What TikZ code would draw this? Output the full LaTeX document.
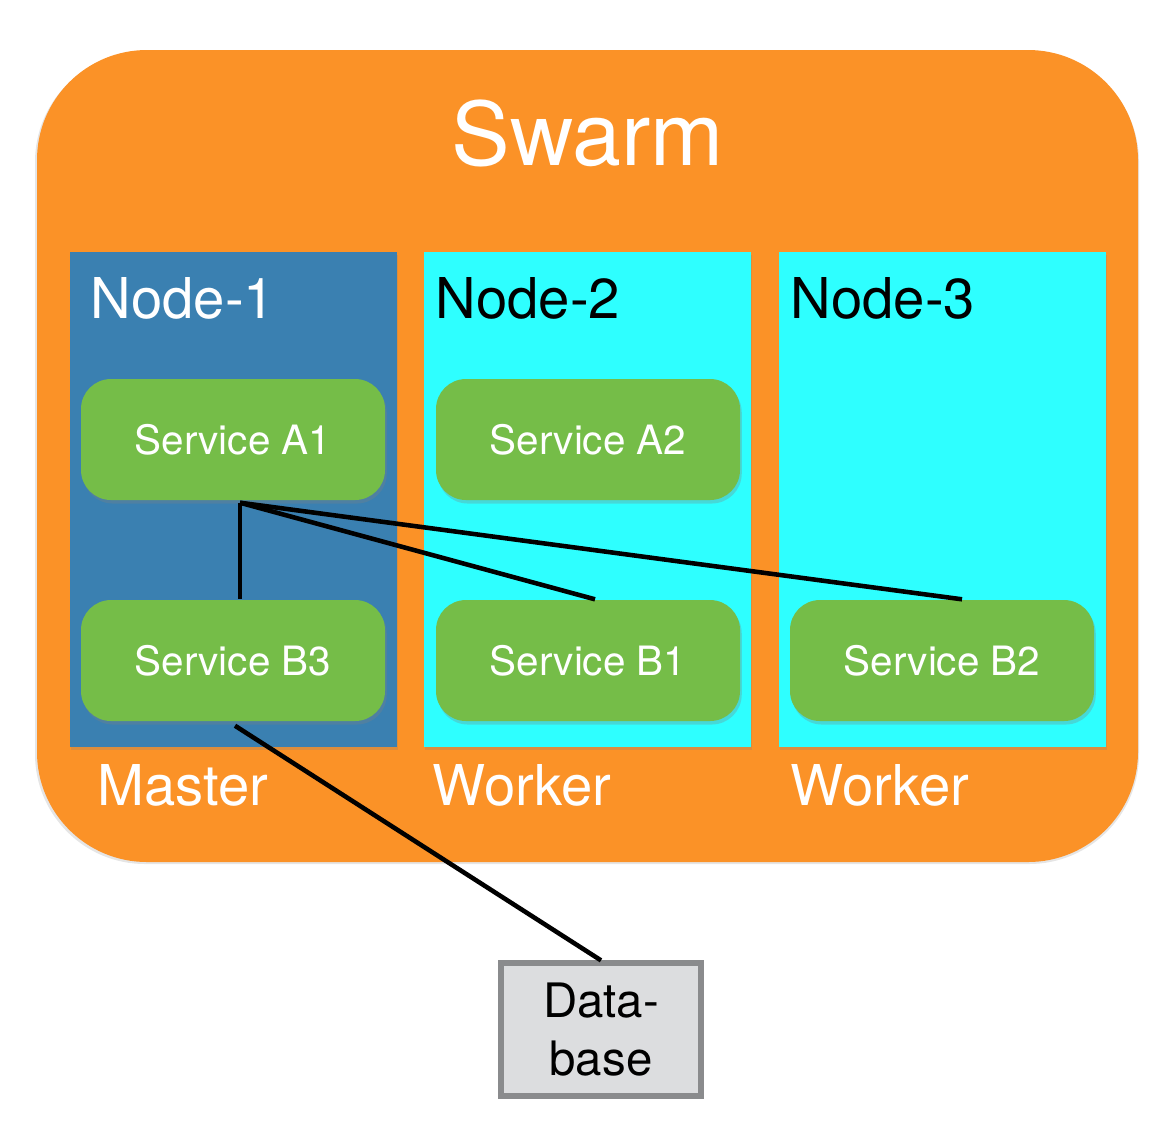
\documentclass[tikz,border=0pt]{standalone}
\usepackage{fontspec}
\setmainfont{TeX Gyre Heros}
\usetikzlibrary{positioning,shadows,calc}

\definecolor{swarmorange}{HTML}{FB9227}
\definecolor{masterblue}{HTML}{3A80B1}
\definecolor{workercyan}{HTML}{2EFFFF}
\definecolor{servicegreen}{HTML}{75BD48}
\definecolor{dbgray}{HTML}{DCDDDF}
\definecolor{dbborder}{HTML}{8A8B8D}

\tikzset{
  hostbox/.style={draw=none,minimum width=3.27cm,minimum height=4.95cm,
    drop shadow={shadow xshift=0.4pt,shadow yshift=-0.8pt,opacity=0.25}},
  service/.style={fill=servicegreen,rounded corners=0.3cm,minimum width=3.04cm,
    minimum height=1.21cm,text=white,font=\fontsize{11.5}{14}\selectfont,
    drop shadow={shadow xshift=0.5pt,shadow yshift=-1pt,opacity=0.3}},
  hostlabel/.style={anchor=base west,inner sep=0pt,font=\fontsize{16}{19}\selectfont},
  rolelabel/.style={anchor=base west,inner sep=0pt,text=white,font=\fontsize{16}{19}\selectfont},
  link/.style={line width=1.3pt}
}

\begin{document}
\begin{tikzpicture}
\useasboundingbox (0,0) rectangle (11.7,-11.4);

% Swarm around everything
\fill[gray!20,rounded corners=1.1cm] (0.35,-0.52) rectangle (11.39,-8.64);
\fill[swarmorange,rounded corners=1.1cm] (0.37,-0.50) rectangle (11.38,-8.62);
\node[text=white,font=\fontsize{25}{30}\selectfont] (swarm) at (5.88,-1.33) {Swarm};

% The three hosts
\node[hostbox,fill=masterblue] (n1) at (2.33,-4.995) {};
\node[hostbox,fill=workercyan] (n2) at (5.87,-4.995) {};
\node[hostbox,fill=workercyan] (n3) at (9.42,-4.995) {};

\node[hostlabel,text=white] (l1) at (0.90,-3.18) {Node-1};
\node[hostlabel] (l2) at (4.35,-3.18) {Node-2};
\node[hostlabel] (l3) at (7.90,-3.18) {Node-3};

\node[rolelabel] (r1) at (0.97,-8.05) {Master};
\node[rolelabel] (r2) at (4.32,-8.05) {Worker};
\node[rolelabel] (r3) at (7.90,-8.05) {Worker};

% Services
\node[service] (sa1) at (2.33,-4.395) {Service A1};
\node[service] (sa2) at (5.88,-4.395) {Service A2};
\node[service] (sb3) at (2.33,-6.605) {Service B3};
\node[service] (sb1) at (5.88,-6.605) {Service B1};
\node[service] (sb2) at (9.42,-6.605) {Service B2};

% Database outside the swarm
\node[draw=dbborder,line width=1.5pt,fill=dbgray,minimum width=2.0cm,
  minimum height=1.33cm,align=center,
  font=\fontsize{13.5}{16.5}\selectfont] (db) at (6.01,-10.295) {Data-\\base};

% Links from A1 to the B services
\coordinate (hub) at ($(sa1.south)+(0.07,-0.02)$);
\draw[link] (hub) -- (hub |- sb3.north);
\draw[link] (hub) -- ($(sb1.north)+(0.07,0)$);
\draw[link] (hub) -- ($(sb2.north)+(0.20,0)$);

% Link from B3 to the database
\draw[link] ($(sb3.south)+(0.02,-0.04)$) -- (db.north);
\end{tikzpicture}
\end{document}
